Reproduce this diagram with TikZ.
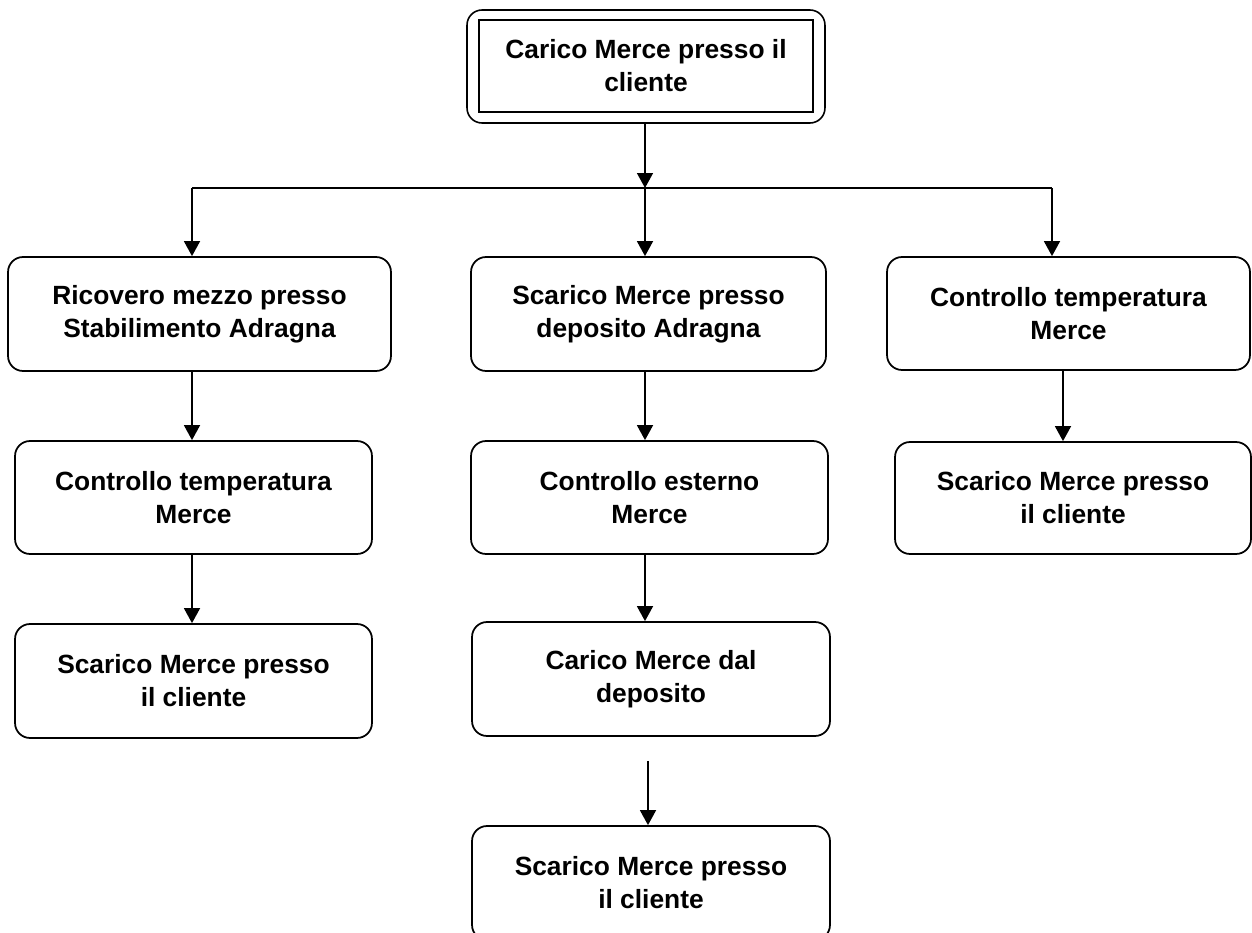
\documentclass[tikz,border=0pt]{standalone}
\usepackage{fontspec}
\setmainfont{Liberation Sans}
\usepackage{xcolor}
\usepackage{tikz}
\usetikzlibrary{arrows.meta,positioning,calc}
\definecolor{inkK}{HTML}{000000}

\begin{document}
\begin{tikzpicture}[x=0.02cm, y=-0.02cm,
    procbox/.style={draw=inkK, line width=1pt, rounded corners=0.3cm,
        inner sep=0pt, align=center, text=inkK,
        font=\bfseries\fontsize{15}{18.8}\selectfont},
    flowarrow/.style={draw=inkK, line width=1.1pt, -{Triangle[length=8.5pt,width=9pt]}}]
  \path[use as bounding box, clip] (0,0) rectangle (1252,933);

  % start node, double frame
  \node[draw=inkK, line width=0.9pt, rounded corners=0.3cm,
        minimum width=7.16cm, minimum height=2.26cm] (carico) at (646,66.5) {};
  \node[procbox, rounded corners=0pt, line width=0.9pt,
        minimum width=6.68cm, minimum height=1.84cm] (caricoin) at (646,66)
        {Carico Merce presso il\\cliente};

  % first row
  \node[procbox, minimum width=7.66cm, minimum height=2.28cm] (ricovero) at (199.5,314)
        {Ricovero mezzo presso\\Stabilimento Adragna};
  \node[procbox, minimum width=7.1cm, minimum height=2.28cm] (scaricoDep) at (648.5,314)
        {Scarico Merce presso\\deposito Adragna};
  \node[procbox, minimum width=7.26cm, minimum height=2.26cm] (tempR) at (1068.5,313.5)
        {Controllo temperatura\\Merce};

  % second row
  \node[procbox, minimum width=7.14cm, minimum height=2.26cm] (tempL) at (193.5,497.5)
        {Controllo temperatura\\Merce};
  \node[procbox, minimum width=7.14cm, minimum height=2.26cm] (esterno) at (649.5,497.5)
        {Controllo esterno\\Merce};
  \node[procbox, minimum width=7.12cm, minimum height=2.24cm] (scaricoR) at (1073,498)
        {Scarico Merce presso\\il cliente};

  % third row
  \node[procbox, minimum width=7.14cm, minimum height=2.28cm] (scaricoL) at (193.5,681)
        {Scarico Merce presso\\il cliente};
  \node[procbox, minimum width=7.16cm, minimum height=2.28cm] (caricoDep) at (651,679)
        {Carico Merce dal\\deposito};

  % last row
  \node[procbox, minimum width=7.16cm, minimum height=2.28cm] (scaricoC) at (651,883)
        {Scarico Merce presso\\il cliente};

  % columns of the connectors
  \coordinate (colL) at (192,188);
  \coordinate (colC) at (645,188);
  \coordinate (colR) at (1052,188);
  \coordinate (colR2) at (1063,188);

  \draw[flowarrow] (carico.south -| colC) -- (colC);
  \draw[draw=inkK, line width=1.1pt] (colL) -- (colR);
  \draw[flowarrow] (colL) -- (colL |- ricovero.north);
  \draw[flowarrow] (colC) -- (colC |- scaricoDep.north);
  \draw[flowarrow] (colR) -- (colR |- tempR.north);

  \draw[flowarrow] (ricovero.south -| colL) -- (colL |- tempL.north);
  \draw[flowarrow] (tempL.south -| colL) -- (colL |- scaricoL.north);
  \draw[flowarrow] (scaricoDep.south -| colC) -- (colC |- esterno.north);
  \draw[flowarrow] (esterno.south -| colC) -- (colC |- caricoDep.north);
  \draw[flowarrow] ($(caricoDep.south -| colC)+(3,24)$) -- ($(colC |- scaricoC.north)+(3,0)$);
  \draw[flowarrow] (tempR.south -| colR2) -- (colR2 |- scaricoR.north);
\end{tikzpicture}
\end{document}
